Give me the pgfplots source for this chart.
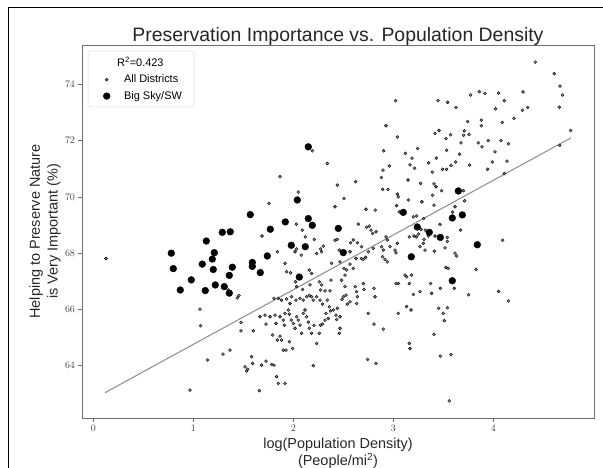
\documentclass[border=0pt]{standalone}
\usepackage{pgfplots}
\pgfplotsset{compat=1.18}
\usepackage{fontspec}
\setmainfont{Liberation Sans}
\definecolor{axisgray}{HTML}{6E6E6E}
\definecolor{ptgray}{HTML}{8A8A8A}
\begin{document}
\begin{tikzpicture}
\useasboundingbox (0bp,0bp) rectangle (603bp,468bp);
\draw[black, line width=0.9bp] (8.5bp,0bp) -- (8.5bp,461bp) -- (603bp,461bp);
\begin{axis}[
  at={(82bp,50bp)}, anchor=south west,
  scale only axis, width=512bp, height=373bp,
  xmin=-0.113, xmax=5.007, ymin=62.14, ymax=75.40,
  xtick={0,1,2,3,4}, ytick={64,66,68,70,72,74},
  tick align=outside, tick pos=left,
  major tick length=3.5bp,
  axis line style={draw=axisgray, line width=0.8pt},
  tick style={axisgray, line width=0.6pt},
  ticklabel style={font=\fontsize{10}{12}\selectfont, text=black!75},
  title={Preservation Importance vs. Population Density},
  title style={font=\fontsize{19.5}{23}\selectfont, text=black!85, at={(axis description cs:0.5,1.008)}, anchor=center},
  xlabel={log(Population Density)\\(People/mi\textsuperscript{2})},
  xlabel style={font=\fontsize{14.5}{17}\selectfont, text=black!85, align=center, at={(axis description cs:0.5,-0.094)}, anchor=center},
  ylabel={Helping to Preserve Nature\\is Very Important (\%)},
  ylabel style={font=\fontsize{14.5}{18}\selectfont, text=black!85, align=center, at={(axis description cs:-0.0723,0.5)}, anchor=center},
  legend style={at={(axis description cs:0.0117,0.984)}, anchor=north west, draw=black!15, rounded corners=2pt, fill=white, font=\fontsize{11}{13}\selectfont, row sep=3bp, column sep=12bp, inner xsep=10bp, inner ysep=4bp},
  legend cell align=left,
]
\draw[axisgray, line width=0.8pt] (rel axis cs:0,0) rectangle (rel axis cs:1,1);
\addplot[ptgray, line width=1pt, forget plot] coordinates {(0.117,63.04) (4.777,72.10)};
\addlegendimage{empty legend}
\addlegendentry{\hspace{-7bp}R\textsuperscript{2}=0.423}
\addplot[only marks, mark=*, mark size=1.5bp, mark options={draw=none, fill=ptgray}] table {
x y
0.127 67.81
0.967 63.13
1.067 66.01
1.073 65.42
1.143 64.20
1.297 64.41
1.367 64.55
1.35 66.69
1.367 66.53
1.44 66.41
1.457 66.49
1.477 65.54
1.477 65.24
1.517 63.96
1.533 63.81
1.543 63.87
2.19 71.64
2.34 71.19
1.867 70.72
2.44 70.42
2.624 70.54
2.507 69.95
2.05 70.17
3.023 73.42
2.927 72.53
3.04 72.13
2.904 71.64
2.96 71.10
2.897 70.95
2.88 70.69
2.894 70.27
2.947 70.27
3.04 70.10
3.05 70.0
3.12 71.55
3.187 71.38
3.167 71.14
3.213 71.02
3.243 71.72
3.147 70.6
3.273 70.48
3.287 69.82
3.15 69.89
3.353 71.21
3.39 70.88
3.417 72.26
3.457 72.36
3.447 73.42
3.543 73.36
3.527 72.07
3.533 71.66
3.43 71.38
3.493 70.98
3.533 70.98
3.407 70.46
3.427 70.36
3.393 70.06
3.483 70.22
4.42 74.79
4.61 74.38
4.667 73.94
4.693 73.62
4.66 73.19
4.773 72.36
4.664 71.83
3.773 73.62
3.86 73.74
3.917 73.68
4.053 73.69
4.297 73.73
4.11 73.42
4.023 73.13
4.29 73.08
4.343 73.18
4.207 72.79
4.09 72.65
3.88 72.73
3.88 72.53
3.743 72.68
3.71 72.35
3.703 72.19
3.757 72.22
3.627 73.18
3.573 72.21
3.677 71.92
3.85 71.92
3.887 71.78
3.95 72.0
4.077 72.0
4.15 71.89
4.017 71.60
3.99 71.24
4.137 71.27
3.943 70.98
3.763 71.13
3.623 71.24
3.577 71.12
3.663 71.52
4.11 70.83
3.7 70.22
3.713 69.86
3.617 69.65
3.593 69.46
3.673 68.82
4.093 68.46
3.827 67.42
3.61 66.75
3.753 66.52
4.053 66.64
4.15 66.30
3.617 68.0
3.633 67.9
3.577 64.39
3.56 62.75
3.407 69.71
3.467 69.02
3.417 68.61
3.54 68.56
3.54 68.42
3.517 68.19
3.41 68.07
3.527 67.49
3.55 67.46
3.373 66.92
3.383 66.57
3.47 66.75
3.453 66.04
3.54 66.06
3.5 65.86
3.51 65.6
3.407 65.11
3.47 64.34
1.757 69.77
2.417 69.65
2.727 69.56
2.82 69.53
3.033 69.69
3.06 69.47
3.283 69.83
3.2 69.29
3.233 69.32
3.303 69.23
3.277 68.84
3.32 68.82
3.35 68.61
3.307 68.49
1.687 68.61
2.03 69.03
2.09 68.82
2.183 69.03
2.12 68.58
2.21 68.49
2.3 68.25
2.273 68.15
2.283 68.05
2.233 67.99
2.017 68.05
2.033 68.15
1.84 68.05
2.08 67.93
2.417 68.46
2.44 68.49
2.573 68.37
2.65 69.03
2.76 68.96
2.777 68.82
2.793 68.7
2.733 68.92
2.827 68.76
2.6 68.47
2.64 68.37
2.683 68.23
2.567 68.05
2.46 68.11
2.383 67.64
2.467 67.69
2.507 67.46
2.533 67.4
2.567 67.61
2.6 67.46
2.627 67.81
2.68 67.81
2.7 67.78
2.723 67.85
2.75 68.05
2.8 68.17
2.9 68.11
2.893 67.87
2.917 67.78
2.94 67.69
2.927 68.58
2.94 68.47
2.883 68.23
2.967 68.23
3.017 68.11
3.027 68.01
3.04 68.35
3.16 68.58
3.207 68.61
3.233 68.58
3.253 68.68
3.267 68.23
3.3 68.35
3.317 68.11
1.917 67.64
1.933 67.34
1.973 67.3
2.023 66.98
2.033 66.81
2.093 66.71
2.16 67.4
2.183 67.28
2.167 66.87
2.26 66.98
2.283 66.87
2.273 66.69
2.317 66.66
2.367 66.66
2.377 67.04
2.483 67.04
2.517 67.22
2.517 66.81
2.62 66.81
2.633 66.63
2.7 66.92
2.707 66.71
2.807 66.75
2.817 66.45
3.027 66.92
3.05 66.92
3.117 67.22
3.133 67.16
3.16 66.92
3.183 67.22
3.2 66.53
3.267 66.63
1.807 66.39
1.85 66.39
1.883 66.33
1.933 66.37
1.983 66.45
1.967 66.21
2.027 66.33
2.067 66.39
2.1 66.33
2.133 66.45
2.16 66.5
2.183 66.45
2.2 66.33
2.233 66.45
2.267 66.33
2.293 66.19
2.34 66.33
2.36 66.09
2.4 65.98
2.427 65.8
2.44 66.04
2.467 65.74
2.487 66.36
2.5 66.45
2.527 66.51
2.54 66.19
2.567 66.27
2.633 66.21
2.64 66.45
2.75 65.86
2.807 65.48
2.9 65.3
3.05 65.86
3.133 66.1
3.177 65.98
1.667 65.74
1.717 65.8
1.727 65.48
1.767 65.74
1.817 65.8
1.827 65.5
1.867 65.74
1.9 65.62
1.91 65.44
1.917 65.86
1.95 65.98
1.96 65.83
1.98 65.62
2.0 65.5
2.017 65.33
2.033 65.74
2.05 65.62
2.067 65.44
2.083 65.15
2.1 65.86
2.117 65.98
2.133 65.74
2.15 65.55
2.16 65.33
2.183 65.15
2.207 65.43
2.233 64.79
2.26 65.15
2.273 65.44
2.293 65.48
2.317 65.62
2.327 65.86
2.35 65.68
2.373 65.95
2.433 65.64
2.467 65.33
2.46 65.15
1.6 65.24
1.583 64.32
1.593 64.08
1.683 64.02
1.727 64.16
1.783 64.04
1.807 64.02
1.833 63.61
1.85 63.37
1.917 63.37
1.793 65.09
1.84 64.91
1.867 65.05
1.883 64.91
1.9 64.55
1.927 64.55
1.96 64.85
1.993 64.61
1.66 63.11
2.2 64.0
2.743 64.22
2.827 64.08
3.16 64.79
3.167 64.61
};
\addlegendentry{All Districts}
\addplot[only marks, mark=*, mark size=3.4bp, mark options={draw=none, fill=black}] table {
x y
0.78 68.0
0.80 67.45
0.87 66.69
0.98 67.05
1.09 67.61
1.13 68.43
1.12 66.67
1.19 67.79
1.21 68.02
1.20 67.42
1.22 66.87
1.29 68.74
1.31 66.81
1.37 68.76
1.36 67.21
1.36 66.58
1.39 67.50
1.57 69.37
1.59 67.67
1.59 67.53
1.67 67.31
1.74 67.90
1.77 68.85
1.92 69.11
1.98 68.28
2.04 69.89
2.06 67.15
2.12 68.23
2.15 71.78
2.15 69.23
2.19 68.99
2.45 68.88
2.50 68.02
3.10 69.45
3.18 67.87
3.24 68.93
3.36 68.74
3.47 68.56
3.59 69.25
3.59 67.02
3.65 70.21
3.69 69.36
3.84 68.30
};
\addlegendentry{Big Sky/SW}
\end{axis}
\end{tikzpicture}
\end{document}
